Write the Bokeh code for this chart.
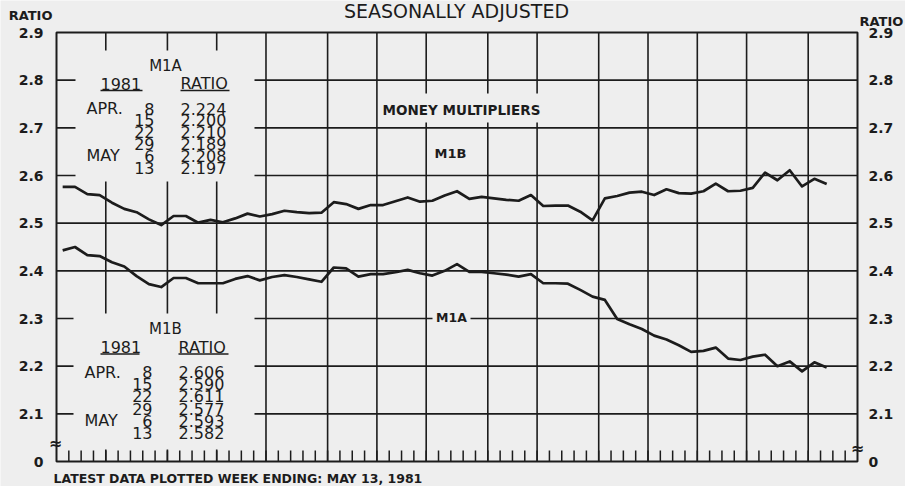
import numpy as np
from bokeh.plotting import figure
from bokeh.models import Range1d, ColumnDataSource
from bokeh.core.properties import value
from bokeh.embed import file_html
from bokeh.resources import INLINE

# ---------------- data ----------------
months = ["MAR 80", "APR", "MAY", "JUN", "JUL", "AUG", "SEP", "OCT", "NOV", "DEC",
          "JAN 81", "FEB", "MAR", "APR", "MAY"]
weeks_in_month = [4, 5, 4, 4, 5, 4, 4, 5, 4, 5, 4, 4, 4, 5, 4]

m1b = [2.576, 2.576, 2.561, 2.559, 2.543, 2.530, 2.523, 2.508, 2.496, 2.515,
       2.515, 2.501, 2.507, 2.502, 2.510, 2.520, 2.514, 2.519, 2.526, 2.523,
       2.521, 2.522, 2.544, 2.540, 2.530, 2.538, 2.538, 2.546, 2.554, 2.545,
       2.547, 2.558, 2.567, 2.551, 2.555, 2.552, 2.549, 2.547, 2.559, 2.536,
       2.537, 2.537, 2.524, 2.506, 2.552, 2.557, 2.564, 2.566, 2.559, 2.571,
       2.563, 2.562, 2.567, 2.583, 2.567, 2.568, 2.574, 2.606, 2.590, 2.611,
       2.577, 2.593, 2.582]

m1a = [2.443, 2.450, 2.433, 2.431, 2.418, 2.409, 2.389, 2.372, 2.366, 2.385,
       2.385, 2.374, 2.374, 2.374, 2.383, 2.389, 2.380, 2.387, 2.391, 2.387,
       2.382, 2.377, 2.407, 2.405, 2.388, 2.393, 2.393, 2.397, 2.402, 2.395,
       2.390, 2.400, 2.414, 2.398, 2.398, 2.395, 2.392, 2.388, 2.393, 2.374,
       2.374, 2.373, 2.360, 2.346, 2.339, 2.299, 2.288, 2.278, 2.264, 2.256,
       2.244, 2.230, 2.232, 2.239, 2.216, 2.213, 2.220, 2.224, 2.200, 2.210,
       2.189, 2.208, 2.197]

table_month = ["APR.", "", "", "", "MAY", ""]
table_day = ["8", "15", "22", "29", "6", "13"]

y_ticks = [2.0, 2.1, 2.2, 2.3, 2.4, 2.5, 2.6, 2.7, 2.8, 2.9]
y_tick_labels = ["0", "2.1", "2.2", "2.3", "2.4", "2.5", "2.6", "2.7", "2.8", "2.9"]

# ---------------- layout ----------------
BG = "#eeeeee"
INK = "#1c1c1c"
FONT = "DejaVu Sans"
W, H = 905, 486
FL, FR, FT, FB = 56, 857, 32, 461          # chart box in canvas pixels
n_weeks = int(sum(weeks_in_month))
month_bounds = list(np.cumsum([0] + weeks_in_month))
Y0, Y1 = y_ticks[0], y_ticks[-1]
SX = (FR - FL) / n_weeks
SY = (FB - FT) / (Y1 - Y0)


def dx(px):   # canvas x -> data x
    return (px - FL) / SX


def dy(py):   # canvas y -> data y
    return Y1 - (py - FT) / SY


p = figure(width=W, height=H,
           x_range=Range1d(dx(0), dx(W)), y_range=Range1d(dy(H), dy(0)),
           output_backend="svg", toolbar_location=None,
           min_border=0, background_fill_color=BG, border_fill_color=BG,
           outline_line_color=None)
p.axis.visible = False
p.grid.visible = False

# grid lines (months / 0.1 ratio)
vg = month_bounds[1:-1]
p.segment(x0=vg, y0=[Y0] * len(vg), x1=vg, y1=[Y1] * len(vg), line_color=INK, line_width=1.6)
hg = y_ticks[1:-1]
p.segment(x0=[0] * len(hg), y0=hg, x1=[n_weeks] * len(hg), y1=hg, line_color=INK, line_width=1.6)

# paper-coloured masks behind the text blocks
masks = [(75, 254, 50, 181), (73, 254, 313, 449), (380, 541, 93, 122), (432, 470, 311, 324)]
p.quad(left=[dx(m[0]) for m in masks], right=[dx(m[1]) for m in masks],
       top=[dy(m[2]) for m in masks], bottom=[dy(m[3]) for m in masks],
       fill_color=BG, line_color=None)

# weekly tick marks along the bottom
wk = list(range(1, n_weeks))
p.segment(x0=wk, y0=[Y0] * len(wk), x1=wk, y1=[Y0 + 11 / SY] * len(wk),
          line_color=INK, line_width=1.5)

# chart box
p.quad(left=[0], right=[n_weeks], bottom=[Y0], top=[Y1], fill_color=None,
       line_color=INK, line_width=2)

# series
xs = np.arange(len(m1b)) + 0.5
p.line(xs, m1b, line_color=INK, line_width=2.7, line_join="round")
p.line(xs, m1a, line_color=INK, line_width=2.7, line_join="round")

# y tick labels, both sides
tsrc = ColumnDataSource(dict(y=y_ticks, t=y_tick_labels,
                             xl=[dx(43)] * len(y_ticks), xr=[dx(868)] * len(y_ticks)))
p.text(x="xl", y="y", text="t", source=tsrc, text_font=value(FONT), text_font_size="14px",
       text_font_style="bold", text_align="right", text_baseline="middle", text_color=INK)
p.text(x="xr", y="y", text="t", source=tsrc, text_font=value(FONT), text_font_size="14px",
       text_font_style="bold", text_align="left", text_baseline="middle", text_color=INK)


def lab(text, px, py, size, bold=False, align="left"):
    p.text(x=[dx(px)], y=[dy(py)], text=[text], text_font=value(FONT),
           text_font_size=f"{size}px", text_font_style="bold" if bold else "normal",
           text_align=align, text_baseline="middle", text_color=INK)


# titles and frame texts
lab("SEASONALLY ADJUSTED", 456, 10, 19, align="center")
lab("RATIO", 52, 15, 13, bold=True, align="right")
lab("RATIO", 859, 21, 13, bold=True, align="left")
lab("LATEST DATA PLOTTED WEEK ENDING: MAY 13, 1981", 53, 477.5, 12.5, bold=True)
lab("\u2248", 55, 443, 16, bold=True, align="center")
lab("\u2248", 857, 448, 16, bold=True, align="center")

# in-chart labels
lab("MONEY MULTIPLIERS", 461, 109, 13.5, bold=True, align="center")
lab("M1B", 450, 152.5, 13, bold=True, align="center")
lab("M1A", 451, 317, 12.5, bold=True, align="center")


def table(name, series, head_y, sub_y, row0, pitch, x_month, x_day, x_val, x1981, xratio):
    lab(name, 165, head_y, 15, align="center")
    lab("1981", x1981[0], sub_y, 16)
    lab("RATIO", xratio[0], sub_y, 16)
    uy = sub_y + 7
    p.segment(x0=[dx(x1981[0]), dx(xratio[0])], y0=[dy(uy)] * 2,
              x1=[dx(x1981[1]), dx(xratio[1])], y1=[dy(uy)] * 2,
              line_color=INK, line_width=1.4)
    vals = series[-len(table_day):]
    for i, (m, d, v) in enumerate(zip(table_month, table_day, vals)):
        yy = row0 + pitch * i
        if m:
            lab(m, x_month, yy, 16)
        lab(d, x_day, yy, 16, align="right")
        lab(f"{v:.3f}", x_val, yy, 16)


table("M1A", m1a, 65, 83, 108, 11.8, 86, 154, 180, (100, 142), (180, 229))
table("M1B", m1b, 328, 346.5, 371.5, 12.2, 84, 152, 178, (100, 139), (178, 228))

open("out.html", "w").write(file_html(p, INLINE))
